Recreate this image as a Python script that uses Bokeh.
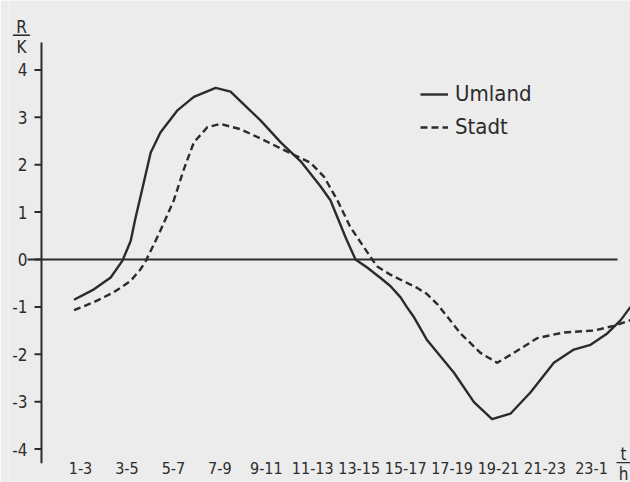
from bokeh.plotting import figure
from bokeh.models import Range1d, FixedTicker, Label, Legend, LegendItem, Arrow
from bokeh.embed import file_html
from bokeh.resources import INLINE

# time-slot categories (x positions 0..11)
time_labels = ["1-3", "3-5", "5-7", "7-9", "9-11", "11-13", "13-15",
               "15-17", "17-19", "19-21", "21-23", "23-1"]
y_ticks = [-4, -3, -2, -1, 0, 1, 2, 3, 4]
y_tick_labels = ["-4", "-3", "-2", "-1", "0", "1", "2", "3", "4"]

# Umland (solid)
umland_x = [-0.14, 0.29, 0.65, 0.90, 0.99, 1.08, 1.18, 1.29, 1.51, 1.72, 2.08, 2.44, 2.91,
            3.23, 3.88, 4.31, 4.74, 5.17, 5.38, 5.53, 5.71, 5.92, 6.17, 6.46,
            6.67, 6.89, 7.03, 7.18, 7.32, 7.46, 8.04, 8.47, 8.86, 9.26, 9.69,
            10.19, 10.62, 10.98, 11.34, 11.63, 11.84]
umland_y = [-0.85, -0.63, -0.38, -0.03, 0.18, 0.39, 0.86, 1.32, 2.25, 2.68, 3.14, 3.43, 3.62,
            3.54, 2.93, 2.47, 2.07, 1.54, 1.25, 0.89, 0.46, 0.0, -0.17, -0.39,
            -0.56, -0.80, -1.01, -1.22, -1.46, -1.70, -2.39, -3.01, -3.37, -3.25, -2.80,
            -2.18, -1.90, -1.80, -1.56, -1.28, -1.00]

# Stadt (dashed)
stadt_x = [-0.14, 0.29, 0.72, 1.08, 1.29, 1.40, 1.58, 1.72, 2.01, 2.22, 2.44,
           2.73, 3.01, 3.44, 3.88, 4.59, 4.95, 5.24, 5.53, 5.81, 6.06, 6.28,
           6.39, 6.67, 6.96, 7.25, 7.46, 7.68, 8.18, 8.61, 8.97, 9.33, 9.83, 10.40,
           11.05, 11.48, 11.84]
stadt_y = [-1.07, -0.90, -0.69, -0.45, -0.21, -0.04, 0.32, 0.61, 1.25, 1.89, 2.47,
           2.79, 2.86, 2.75, 2.55, 2.21, 2.04, 1.75, 1.25, 0.68, 0.32, 0.0,
           -0.15, -0.32, -0.46, -0.60, -0.73, -0.94, -1.56, -1.97, -2.18, -1.97, -1.66, -1.54,
           -1.50, -1.40, -1.28]

INK = "#2b2b2b"
PAPER = "#ececec"
FONT = "DejaVu Sans Condensed"

W, H = 630, 482
FL, FB = 8, 481            # frame left / bottom in page pixels
X0, X1 = -1.55, 11.84      # x range
Y0, Y1 = -4.684, 5.464     # y range
AX_X = -0.84               # position of the drawn y-axis line
AX_Y0, AX_Y1 = -4.30, 4.58 # extent of the drawn y-axis line
TICK = 0.15                # tick length (x units)
TEXT_DY = 4                # baseline correction for screen-unit labels

p = figure(width=W, height=H, output_backend="svg", toolbar_location=None,
           x_range=Range1d(X0, X1), y_range=Range1d(Y0, Y1),
           min_border_left=FL, min_border_right=0, min_border_top=0,
           min_border_bottom=H - FB)
p.background_fill_color = PAPER
p.border_fill_color = PAPER
p.outline_line_color = None
p.grid.visible = False

# y axis: labels from Bokeh's axis, line and ticks drawn on the frame
ya = p.yaxis[0]
ya.ticker = FixedTicker(ticks=y_ticks)
ya.major_label_overrides = dict(zip(y_ticks, y_tick_labels))
ya.axis_line_color = None
ya.major_tick_line_color = None
ya.minor_tick_line_color = None
ya.major_tick_out = 0
ya.major_tick_in = 0
ya.major_label_standoff = -19
ya.major_label_text_font = FONT
ya.major_label_text_font_size = "17px"
ya.major_label_text_color = INK

p.segment(x0=[AX_X], y0=[AX_Y0], x1=[AX_X], y1=[AX_Y1], line_color=INK, line_width=2)
p.segment(x0=[AX_X - TICK] * len(y_ticks), y0=y_ticks,
          x1=[AX_X] * len(y_ticks), y1=y_ticks, line_color=INK, line_width=2)

# x axis
xa = p.xaxis[0]
xa.ticker = FixedTicker(ticks=list(range(len(time_labels))))
xa.major_label_overrides = {i: lab for i, lab in enumerate(time_labels)}
xa.axis_line_color = None
xa.major_tick_line_color = None
xa.minor_tick_line_color = None
xa.major_tick_out = 0
xa.major_tick_in = 0
xa.major_label_standoff = -20
xa.major_label_text_font = FONT
xa.major_label_text_font_size = "16px"
xa.major_label_text_color = INK

# zero reference line (starts a little left of the y axis, as in the original)
p.add_layout(Arrow(end=None, x_start=AX_X - 0.30, y_start=0, x_end=11.56, y_end=0,
                   line_color=INK, line_width=2))

r1 = p.line(umland_x, umland_y, line_color=INK, line_width=2.4, line_join="round")
r2 = p.line(stadt_x, stadt_y, line_color=INK, line_width=2.4, line_dash="7 4",
            line_join="round")

legend = Legend(items=[LegendItem(label="Umland", renderers=[r1]),
                       LegendItem(label="Stadt", renderers=[r2])],
                location=(420 - FL, FB - 83 - 56), background_fill_alpha=0,
                border_line_color=None, padding=0, margin=0, spacing=8,
                glyph_width=28, glyph_height=24, label_height=24,
                label_standoff=7, label_text_font=FONT,
                label_text_font_size="22px", label_text_color=INK)
p.add_layout(legend)

def lab(text, px, py, size="17px"):
    # px, py: page pixels; screen units are relative to the frame's bottom-left
    p.add_layout(Label(x=px - FL, y=FB - py + TEXT_DY, x_units="screen",
                       y_units="screen", text=text, text_font=FONT,
                       text_font_size=size, text_color=INK, text_align="center",
                       text_baseline="alphabetic"))

# R/K fraction
lab("R", 21, 30)
lab("\u2014", 21, 37, size="21px")
lab("K", 21, 50)
# t/h fraction
lab("t", 623, 457)
lab("\u2014", 623, 464, size="17px")
lab("h", 623, 477)

open("out.html", "w").write(file_html(p, INLINE))
